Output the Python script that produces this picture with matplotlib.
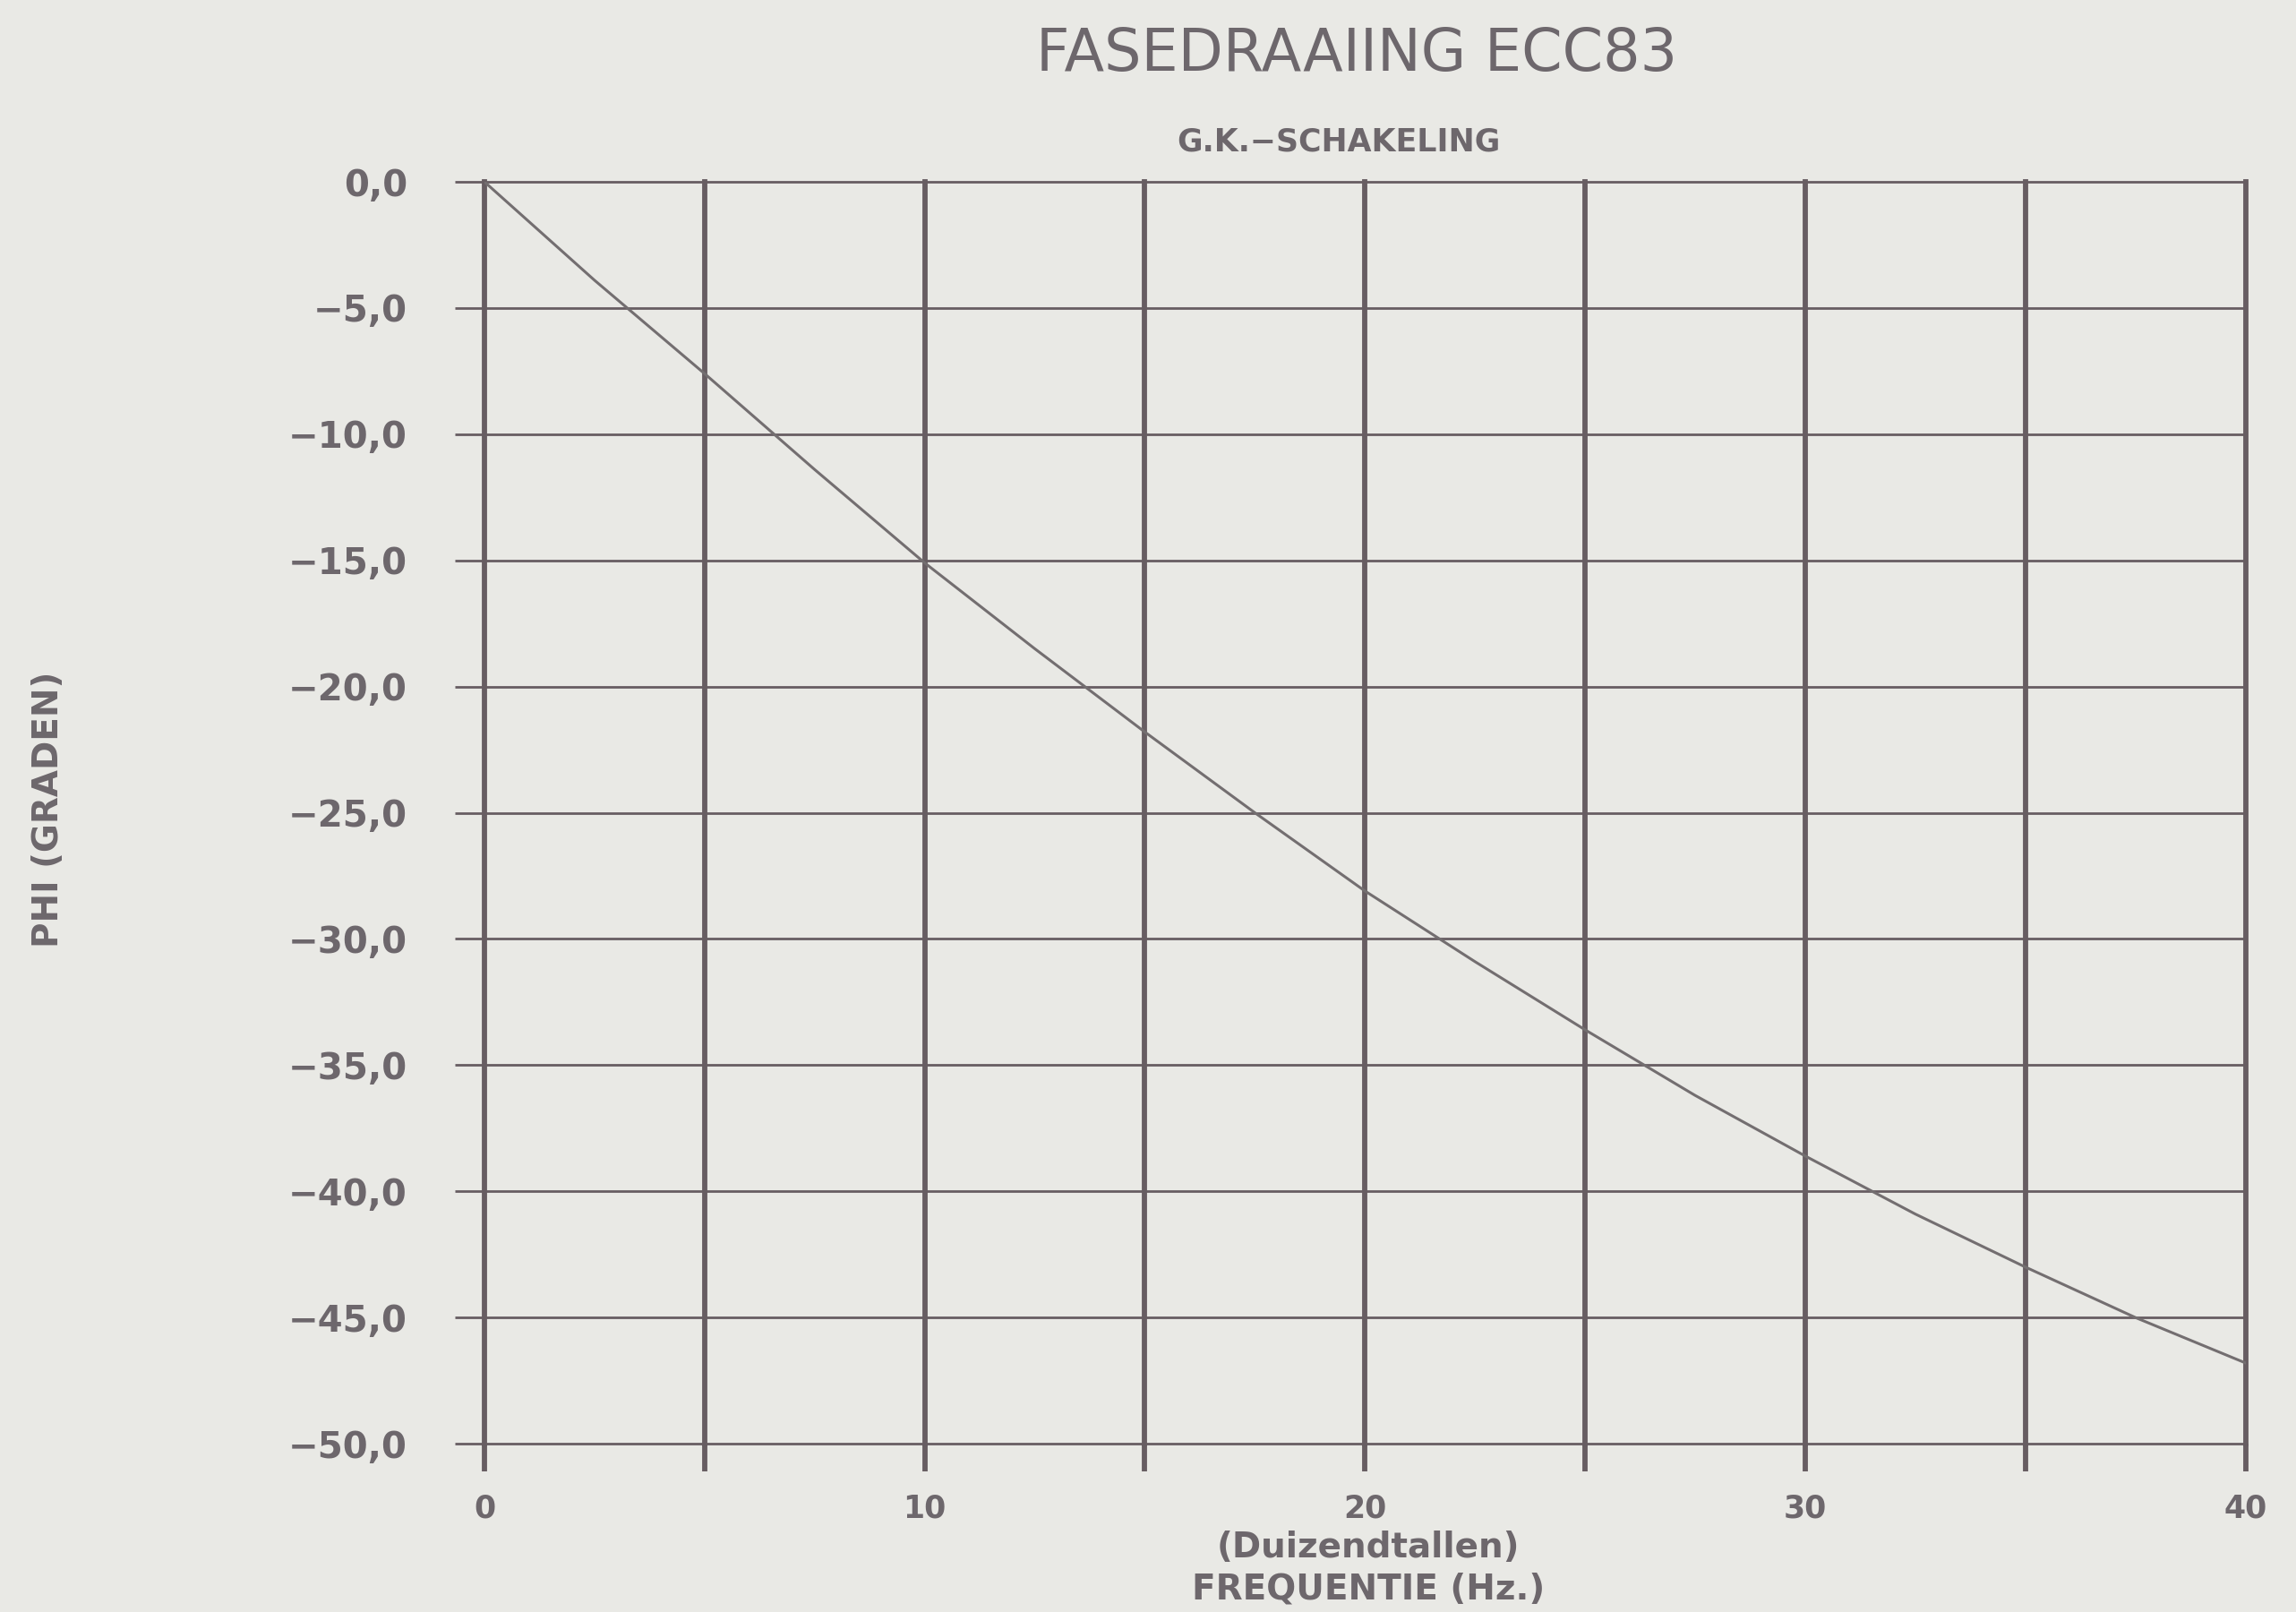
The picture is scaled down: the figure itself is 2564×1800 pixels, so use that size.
import numpy as np
import matplotlib
matplotlib.use("Agg")
import matplotlib.pyplot as plt

# phase shift (frequency in kHz, phase in degrees)
freq = [0, 2.5, 5, 7.5, 10, 12.5, 15, 17.5, 20, 22.5, 25, 27.5, 30, 32.5, 35, 37.5, 40]
phi = [0, -3.9, -7.6, -11.4, -15.1, -18.5, -21.8, -25.0, -28.1, -30.9, -33.6,
       -36.2, -38.6, -40.9, -43.0, -45.0, -46.8]

x_ticks = [0, 10, 20, 30, 40]
x_grid = [0, 5, 10, 15, 20, 25, 30, 35, 40]
y_ticks = [0, -5, -10, -15, -20, -25, -30, -35, -40, -45, -50]
y_labels = ["0,0", "\u22125,0", "\u221210,0", "\u221215,0", "\u221220,0", "\u221225,0",
            "\u221230,0", "\u221235,0", "\u221240,0", "\u221245,0", "\u221250,0"]

bg = "#e9e9e5"
ink = "#6d676c"
grid_col = "#675d62"

fig = plt.figure(figsize=(25.64, 18), dpi=100, facecolor=bg)
ax = fig.add_axes([0.211, 0.1044, 0.767, 0.7828], facecolor=bg)

# grid
for gx in x_grid:
    ax.axvline(gx, color=grid_col, lw=4.2, zorder=1, clip_on=False)
for gy in y_ticks:
    ax.axhline(gy, color=grid_col, lw=2.0, zorder=1, clip_on=False)

ax.plot(freq, phi, color="#736e70", lw=2.2, zorder=3)

ax.set_xlim(0, 40)
ax.set_ylim(-50, 0)
for s in ax.spines.values():
    s.set_visible(False)

ax.set_xticks(x_grid)
ax.set_xticklabels([str(v) if v in x_ticks else "" for v in x_grid])
ax.set_yticks(y_ticks)
ax.set_yticklabels(y_labels)
ax.tick_params(axis="x", length=22, width=4.2, color=grid_col, pad=18,
               labelsize=25, labelcolor=ink)
ax.tick_params(axis="y", length=24, width=2.0, color=grid_col, pad=38,
               labelsize=29, labelcolor=ink)
for lab in ax.get_xticklabels() + ax.get_yticklabels():
    lab.set_fontweight("bold")

fig.text(0.591, 0.966, "FASEDRAAIING ECC83", ha="center", va="center",
         fontsize=47, color=ink)
fig.text(0.583, 0.912, "G.K.\u2212SCHAKELING", ha="center", va="center",
         fontsize=25, color=ink, fontweight="bold")
fig.text(0.596, 0.040, "(Duizendtallen)", ha="center", va="center",
         fontsize=28, color=ink, fontweight="bold")
fig.text(0.596, 0.014, "FREQUENTIE (Hz.)", ha="center", va="center",
         fontsize=28, color=ink, fontweight="bold")
fig.text(0.021, 0.498, "PHI (GRADEN)", ha="center", va="center", rotation=90,
         fontsize=28, color=ink, fontweight="bold")

fig.savefig("out.png", dpi=100, facecolor=bg)
